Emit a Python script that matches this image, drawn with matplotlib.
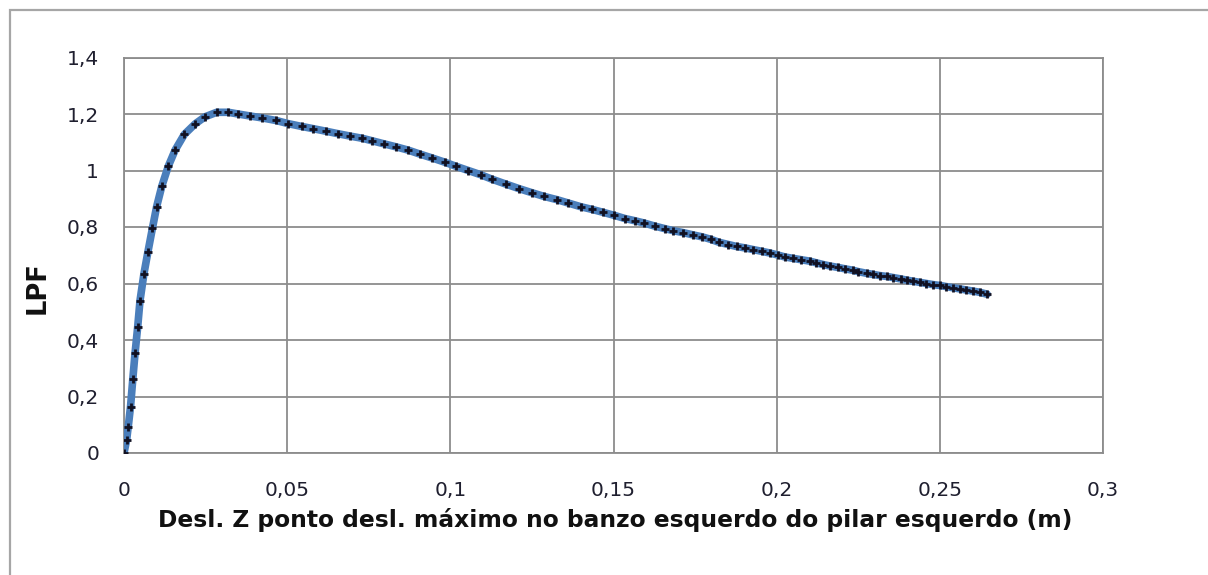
import matplotlib
matplotlib.use("Agg")
import matplotlib.pyplot as plt
from matplotlib.patches import Rectangle
from matplotlib.ticker import FuncFormatter

# Displacement (m) and load proportionality factor
desl_z = [
    0.0, 0.0008, 0.0013, 0.002, 0.0027, 0.0034, 0.0042, 0.0049, 0.0061, 0.0073,
    0.0087, 0.01, 0.0116, 0.0136, 0.0157, 0.0185, 0.0218, 0.0248, 0.0284, 0.032,
    0.035, 0.0386, 0.0424, 0.0466, 0.0503, 0.0544, 0.058, 0.0619, 0.0657, 0.0692,
    0.073, 0.0761, 0.0798, 0.0833, 0.0871, 0.0907, 0.0945, 0.0984, 0.1017, 0.1055,
    0.1093, 0.1128, 0.117, 0.121, 0.1251, 0.1288, 0.1326, 0.1361, 0.1399, 0.1435,
    0.1468, 0.1503, 0.1535, 0.1566, 0.1594, 0.1627, 0.1658, 0.1683, 0.1714, 0.1744,
    0.1772, 0.1799, 0.1823, 0.1852, 0.1877, 0.1903, 0.1928, 0.1954, 0.1979, 0.2003,
    0.2025, 0.205, 0.2076, 0.2102, 0.2122, 0.2143, 0.2163, 0.2187, 0.2209, 0.2233,
    0.225, 0.2276, 0.2296, 0.2316, 0.2337, 0.2357, 0.2381, 0.2398, 0.2418, 0.2439,
    0.2459, 0.248, 0.25, 0.252, 0.254, 0.2561, 0.2581, 0.2602, 0.2622, 0.2645,
]
lpf = [
    0.0, 0.046, 0.093, 0.164, 0.262, 0.355, 0.447, 0.539, 0.634, 0.71,
    0.795, 0.872, 0.945, 1.016, 1.073, 1.128, 1.165, 1.19, 1.206, 1.206,
    1.2, 1.193, 1.186, 1.177, 1.166, 1.156, 1.148, 1.139, 1.13, 1.122,
    1.114, 1.105, 1.094, 1.084, 1.072, 1.058, 1.044, 1.029, 1.015, 1.0,
    0.985, 0.969, 0.952, 0.936, 0.921, 0.908, 0.897, 0.885, 0.872, 0.862,
    0.852, 0.841, 0.83, 0.822, 0.814, 0.803, 0.794, 0.787, 0.78, 0.772,
    0.765, 0.756, 0.746, 0.738, 0.731, 0.726, 0.72, 0.714, 0.708, 0.701,
    0.694, 0.689, 0.684, 0.679, 0.673, 0.667, 0.662, 0.657, 0.652, 0.647,
    0.642, 0.636, 0.632, 0.628, 0.625, 0.621, 0.616, 0.612, 0.608, 0.604,
    0.6, 0.596, 0.593, 0.589, 0.585, 0.581, 0.577, 0.573, 0.569, 0.562,
]

x_ticks = [0, 0.05, 0.1, 0.15, 0.2, 0.25, 0.3]
y_ticks = [0, 0.2, 0.4, 0.6, 0.8, 1.0, 1.2, 1.4]
x_label = "Desl. Z ponto desl. máximo no banzo esquerdo do pilar esquerdo (m)"
y_label = "LPF"

plt.rcParams["font.family"] = ["DejaVu Sans"]

W, H = 1208, 575
fig = plt.figure(figsize=(W / 100, H / 100), dpi=100)
fig.patch.set_facecolor("white")

# Chart-area frame
fig.patches.append(Rectangle((10 / W, -0.2), 1.5, 1.2 - 10 / H,
                             transform=fig.transFigure, fill=False,
                             edgecolor="#a6a6a6", linewidth=1.6, clip_on=False))

left, right, bottom, top = 124, 1103, 453, 57.5
ax = fig.add_axes([left / W, 1 - bottom / H, (right - left) / W, (bottom - top) / H])

ax.plot(desl_z, lpf, color="#4a7ebb", linewidth=5.5, solid_capstyle="round",
        solid_joinstyle="round", zorder=3)
ax.plot(desl_z, lpf, linestyle="none", marker="+", markersize=6,
        markeredgewidth=2.0, color="#111122", zorder=4)

ax.set_xlim(0, 0.3)
ax.set_ylim(0, 1.4)
ax.set_xticks(x_ticks)
ax.set_yticks(y_ticks)

def comma_fmt(v, pos):
    s = f"{v:.2f}".rstrip("0").rstrip(".")
    return s.replace(".", ",")

ax.xaxis.set_major_formatter(FuncFormatter(comma_fmt))
ax.yaxis.set_major_formatter(FuncFormatter(comma_fmt))

ax.grid(True, color="#8c8c8c", linewidth=1.3, zorder=1)
ax.set_axisbelow(True)
for sp in ax.spines.values():
    sp.set_color("#8c8c8c")
    sp.set_linewidth(1.3)

ax.tick_params(axis="both", length=0, labelsize=14.5, labelcolor="#1f1f2f")
ax.tick_params(axis="x", pad=20)
ax.tick_params(axis="y", pad=18)

fig.text(615 / W, 1 - 520 / H, x_label, ha="center", va="center",
         fontsize=16.8, fontweight="bold", color="#111111")
fig.text(38 / W, 1 - 288 / H, y_label, ha="center", va="center",
         rotation=90, fontsize=18.5, fontweight="bold", color="#111111")

fig.savefig("out.png", dpi=100, facecolor="white")
